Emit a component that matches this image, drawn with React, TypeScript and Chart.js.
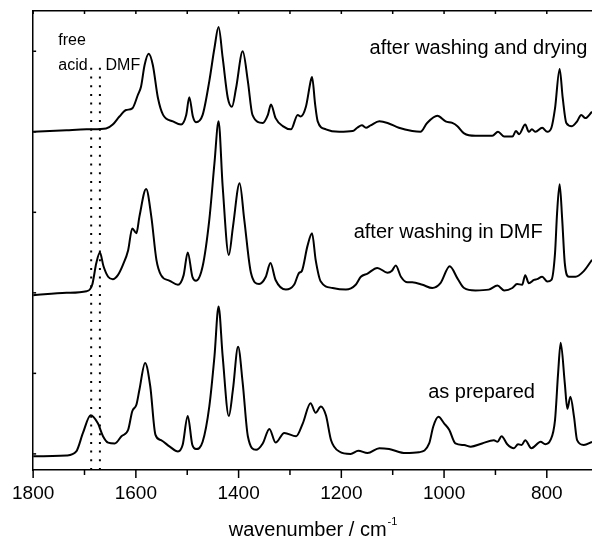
import React, { useEffect, useRef } from "react";
import { Chart, registerables } from "chart.js";

Chart.register(...registerables);

// ---- data (wavenumber in cm-1, absorbance in arbitrary units) ----
const WN_PREPARED = [1800,1735,1716,1703,1688,1674,1664,1654,1641,1628,1615,1607,1599,1593,1582,1572,1562,1551,1534,1518,1509,1499,1490,1483,1470,1457,1447,1439,1431,1419,1411,1401,1392,1382,1366,1353,1340,1328,1311,1288,1275,1260,1250,1240,1230,1220,1204,1182,1167,1149,1126,1107,1075,1049,1029,1021,1011,1000,990,978,961,948,926,903,896,888,877,864,856,849,842,830,812,803,793,784,778,773,765,760,754,747,741,728,712];
const ABS_PREPARED = [-0.03,-0.02,0.03,0.26,0.48,0.38,0.22,0.14,0.13,0.22,0.30,0.53,0.61,0.80,1.13,0.84,0.24,0.17,0.09,0.03,0.11,0.47,0.11,0.06,0.15,0.59,1.21,1.83,1.21,0.47,0.80,1.33,0.88,0.22,0.05,0.13,0.31,0.14,0.26,0.22,0.38,0.63,0.51,0.59,0.48,0.17,0.03,0.00,0.04,0.01,0.07,0.06,0.01,0.02,0.13,0.34,0.46,0.38,0.30,0.13,0.11,0.09,0.13,0.17,0.15,0.22,0.12,0.07,0.12,0.11,0.17,0.07,0.15,0.12,0.17,0.42,1.00,1.38,0.88,0.56,0.71,0.46,0.17,0.11,0.15];

const WN_WASHED = [1800,1735,1696,1685,1677,1670,1663,1654,1645,1635,1625,1615,1607,1599,1593,1580,1570,1560,1551,1534,1518,1507,1499,1490,1483,1470,1457,1447,1439,1431,1419,1411,1398,1389,1376,1360,1347,1338,1328,1308,1292,1282,1277,1266,1257,1250,1240,1217,1191,1172,1162,1149,1130,1110,1102,1094,1084,1071,1062,1042,1023,1007,989,974,961,939,913,896,883,867,858,848,842,835,825,819,809,799,791,784,780,775,770,765,757,744,728,712];
const ABS_WASHED = [-0.03,0.00,0.02,0.10,0.37,0.50,0.33,0.20,0.17,0.22,0.35,0.53,0.80,0.74,0.95,1.29,0.95,0.41,0.22,0.15,0.10,0.22,0.50,0.20,0.15,0.33,0.91,1.61,2.13,1.32,0.47,0.82,1.36,0.91,0.25,0.11,0.20,0.37,0.16,0.04,0.10,0.25,0.27,0.58,0.74,0.41,0.14,0.06,0.04,0.10,0.20,0.24,0.31,0.25,0.27,0.34,0.20,0.13,0.13,0.10,0.06,0.12,0.33,0.18,0.06,0.03,0.04,0.09,0.03,0.06,0.11,0.10,0.22,0.12,0.16,0.17,0.20,0.14,0.16,0.49,0.99,1.35,0.91,0.37,0.20,0.20,0.27,0.41];

const WN_DRIED = [1800,1735,1696,1683,1658,1645,1632,1619,1607,1596,1590,1583,1575,1567,1557,1547,1528,1512,1502,1496,1489,1483,1470,1457,1447,1439,1431,1421,1413,1405,1392,1382,1373,1353,1343,1337,1328,1314,1298,1285,1279,1269,1259,1257,1251,1246,1230,1204,1178,1169,1160,1152,1143,1126,1110,1088,1062,1046,1033,1013,997,984,974,961,939,906,895,883,867,860,854,842,835,829,822,809,799,791,784,775,769,762,751,741,733,725,712];
const ABS_DRIED = [0.00,0.02,0.03,0.03,0.04,0.09,0.19,0.27,0.29,0.46,0.56,0.83,0.97,0.83,0.42,0.21,0.13,0.09,0.21,0.43,0.19,0.12,0.21,0.63,1.04,1.30,0.92,0.42,0.31,0.54,1.00,0.63,0.21,0.11,0.21,0.34,0.17,0.07,0.03,0.21,0.19,0.31,0.65,0.68,0.34,0.13,0.03,0.00,0.01,0.05,0.08,0.05,0.08,0.13,0.11,0.05,0.01,0.00,0.11,0.20,0.13,0.11,0.07,-0.02,-0.05,-0.05,0.00,-0.06,-0.06,0.01,-0.03,0.09,0.00,0.03,0.00,0.05,0.00,0.05,0.29,0.78,0.42,0.11,0.07,0.13,0.21,0.17,0.25];

const OFFSETS = [0, 2, 4]; // prepared, washed in DMF, washed and dried

const X_MIN = 712;
const X_MAX = 1800;
const Y_MIN = -0.2;
const Y_MAX = 5.5;
const X_LABELED_TICKS = [800, 1000, 1200, 1400, 1600, 1800];

const MARKER_FREE_ACID = 1687;
const MARKER_DMF = 1670;
const MARKER_TOP = 4.86;

const TEXT_LABELS = [
  { text: "after washing and drying", x: 1145, y: 4.97, size: 20 },
  { text: "after washing in DMF", x: 1176, y: 2.68, size: 20 },
  { text: "as prepared", x: 1031, y: 0.69, size: 20 },
  { text: "free", x: 1751, y: 5.08, size: 16 },
  { text: "acid", x: 1751, y: 4.77, size: 16 },
  { text: "DMF", x: 1659, y: 4.77, size: 16 },
];

const AXIS_TITLE = "wavenumber / cm";
const AXIS_TITLE_SUP = "-1";

const FONT = '"Liberation Sans", Arial, Helvetica, sans-serif';

function spectrum(wn: number[], abs: number[], offset: number) {
  return wn.map((w, i) => ({ x: w, y: abs[i] + offset }));
}

const decorPlugin = {
  id: "decor",
  afterDraw(chart: any) {
    const ctx = chart.ctx as CanvasRenderingContext2D;
    const area = chart.chartArea;
    const xs = chart.scales.x;
    const ys = chart.scales.y;
    ctx.save();
    ctx.strokeStyle = "#000";
    ctx.lineWidth = 1.5;
    // x ticks: bottom (outward) and top (inward)
    xs.ticks.forEach((t: any) => {
      const px = xs.getPixelForValue(t.value);
      const len = X_LABELED_TICKS.includes(t.value) ? 8 : 5;
      ctx.beginPath();
      ctx.moveTo(px, area.bottom);
      ctx.lineTo(px, area.bottom + len);
      ctx.stroke();
      ctx.beginPath();
      ctx.moveTo(px, area.top);
      ctx.lineTo(px, area.top + 3);
      ctx.stroke();
    });
    // y ticks inward
    ys.ticks.forEach((t: any) => {
      const py = ys.getPixelForValue(t.value);
      ctx.beginPath();
      ctx.moveTo(area.left, py);
      ctx.lineTo(area.left + 3, py);
      ctx.stroke();
    });
    // annotations
    ctx.fillStyle = "#000";
    ctx.textAlign = "left";
    ctx.textBaseline = "alphabetic";
    TEXT_LABELS.forEach((l) => {
      ctx.font = `${l.size}px ${FONT}`;
      ctx.fillText(l.text, xs.getPixelForValue(l.x), ys.getPixelForValue(l.y));
    });
    // axis title with superscript
    ctx.font = `20px ${FONT}`;
    const w1 = ctx.measureText(AXIS_TITLE).width;
    ctx.font = `11px ${FONT}`;
    const w2 = ctx.measureText(AXIS_TITLE_SUP).width;
    const cx = (area.left + area.right) / 2;
    const start = cx - (w1 + w2) / 2;
    const base = area.bottom + 66;
    ctx.font = `20px ${FONT}`;
    ctx.fillText(AXIS_TITLE, start, base);
    ctx.font = `11px ${FONT}`;
    ctx.fillText(AXIS_TITLE_SUP, start + w1 + 1, base - 11);
    ctx.restore();
  },
};

export default function App() {
  const canvasRef = useRef<HTMLCanvasElement | null>(null);

  useEffect(() => {
    if (!canvasRef.current) return;
    const lineStyle = {
      borderColor: "#000",
      borderWidth: 2,
      pointRadius: 0,
      cubicInterpolationMode: "monotone" as const,
      borderJoinStyle: "round" as const,
      fill: false,
    };
    const markerStyle = {
      borderColor: "#000",
      borderWidth: 2,
      pointRadius: 0,
      borderDash: [2, 6.7],
      borderCapStyle: "butt" as const,
      fill: false,
    };
    const chart = new Chart(canvasRef.current, {
      type: "line",
      data: {
        datasets: [
          { label: "free acid", data: [{ x: MARKER_FREE_ACID, y: Y_MIN }, { x: MARKER_FREE_ACID, y: MARKER_TOP }], ...markerStyle },
          { label: "DMF", data: [{ x: MARKER_DMF, y: Y_MIN }, { x: MARKER_DMF, y: MARKER_TOP }], ...markerStyle },
          { label: "as prepared", data: spectrum(WN_PREPARED, ABS_PREPARED, OFFSETS[0]), ...lineStyle },
          { label: "after washing in DMF", data: spectrum(WN_WASHED, ABS_WASHED, OFFSETS[1]), ...lineStyle },
          { label: "after washing and drying", data: spectrum(WN_DRIED, ABS_DRIED, OFFSETS[2]), ...lineStyle },
        ],
      },
      options: {
        animation: false,
        responsive: false,
        events: [],
        layout: { padding: 0 },
        plugins: { legend: { display: false }, tooltip: { enabled: false } },
        scales: {
          x: {
            type: "linear",
            position: "bottom",
            reverse: true,
            min: X_MIN,
            max: X_MAX,
            grid: { display: false, drawTicks: false },
            border: { display: true, color: "#000", width: 1.5 },
            ticks: {
              stepSize: 100,
              includeBounds: false,
              autoSkip: false,
              maxRotation: 0,
              padding: 12,
              color: "#000",
              font: { family: FONT, size: 19 },
              callback: (v: any) => (X_LABELED_TICKS.includes(Number(v)) ? String(v) : ""),
            },
            afterFit: (s: any) => { s.height = 72; },
          },
          x2: {
            type: "linear",
            position: "top",
            reverse: true,
            min: X_MIN,
            max: X_MAX,
            grid: { display: false, drawTicks: false },
            border: { display: true, color: "#000", width: 1.5 },
            ticks: { display: false },
            afterFit: (s: any) => { s.height = 11; },
          },
          y: {
            type: "linear",
            min: Y_MIN,
            max: Y_MAX,
            grid: { display: false, drawTicks: false },
            border: { display: true, color: "#000", width: 1.5 },
            ticks: { display: false, stepSize: 1, includeBounds: false },
            afterFit: (s: any) => { s.width = 32; },
          },
        },
      },
      plugins: [decorPlugin],
    });
    return () => chart.destroy();
  }, []);

  return (
    <div style={{ position: "absolute", left: 0, top: 0, width: 592, height: 542, background: "#fff" }}>
      <canvas ref={canvasRef} width={592} height={542} style={{ width: 592, height: 542, display: "block" }} />
    </div>
  );
}
